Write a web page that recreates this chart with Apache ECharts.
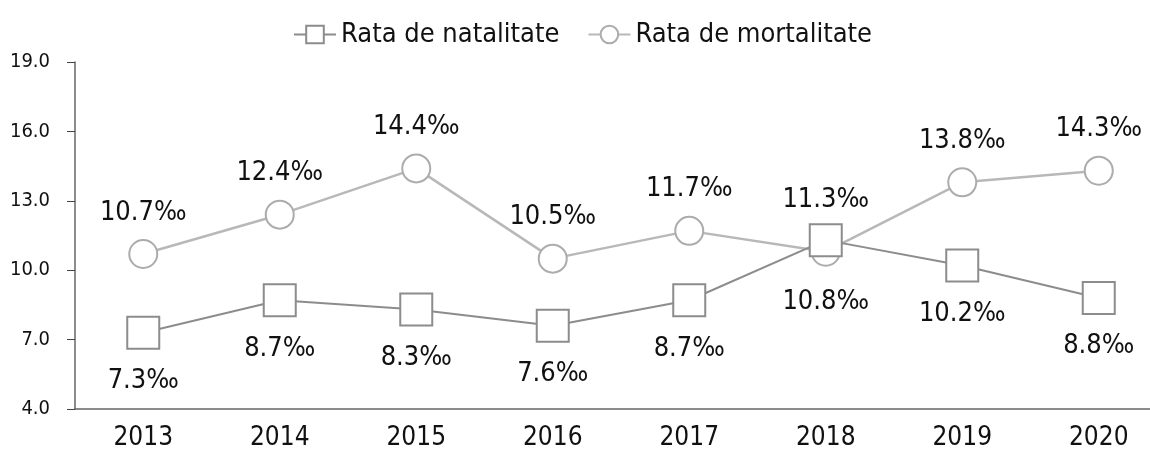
<!DOCTYPE html>
<html>
<head>
<meta charset="utf-8">
<script src="https://cdn.jsdelivr.net/npm/echarts@6/dist/echarts.min.js"></script>
<style>
  html, body { margin: 0; padding: 0; background: #fff; overflow: hidden; }
  #chart { width: 1150px; height: 468px; }
</style>
</head>
<body>
<div id="chart"></div>
<script>
  // date
  var years = ['2013', '2014', '2015', '2016', '2017', '2018', '2019', '2020']
  var natalitate = [7.3, 8.7, 8.3, 7.6, 8.7, 11.3, 10.2, 8.8]
  var mortalitate = [10.7, 12.4, 14.4, 10.5, 11.7, 10.8, 13.8, 14.3]
  // in 2018 etichetele sunt inversate
  var natalitatePos = ['bottom', 'bottom', 'bottom', 'bottom', 'bottom', 'top', 'bottom', 'bottom']
  var mortalitatePos = ['top', 'top', 'top', 'top', 'top', 'bottom', 'top', 'top']

  var font = "'DejaVu Sans Condensed', sans-serif"

  // eticheta inversata are alta distanta fata de marker
  function withPos (values, pos, mainPos, altDistance) {
    return values.map(function (v, i) {
      var label = { position: pos[i] }
      if (pos[i] !== mainPos) label.distance = altDistance
      return { value: v, label: label }
    })
  }

  var chart = echarts.init(document.getElementById('chart'))
  chart.setOption({
    animation: false,
    textStyle: { fontFamily: font },
    legend: {
      top: 16,
      left: 288,
      itemGap: 28,
      itemWidth: 42,
      itemHeight: 22,
      textStyle: { fontFamily: font, fontSize: 27, color: '#111' },
      data: ['Rata de natalitate', 'Rata de mortalitate']
    },
    // ultima categorie iese putin din imagine
    grid: { left: 75, right: -17, top: 62, bottom: 59, outerBoundsMode: 'none' },
    xAxis: {
      type: 'category',
      data: years,
      boundaryGap: true,
      axisLine: { lineStyle: { color: '#666', width: 1.5 } },
      axisTick: { show: false },
      axisLabel: { fontFamily: font, fontSize: 26, color: '#111', margin: 16 }
    },
    yAxis: {
      type: 'value',
      min: 4,
      max: 19,
      interval: 3,
      axisLine: { show: true, lineStyle: { color: '#666', width: 1.5 } },
      axisTick: { show: true, length: 8, lineStyle: { color: '#444' } },
      splitLine: { show: false },
      axisLabel: {
        fontFamily: font, fontSize: 20, color: '#111', margin: 25,
        formatter: function (v) { return v.toFixed(1) }
      }
    },
    series: [
      {
        name: 'Rata de natalitate',
        type: 'line',
        data: withPos(natalitate, natalitatePos, 'bottom', 10),
        symbol: 'rect',
        symbolSize: 32,
        lineStyle: { color: '#8c8c8c', width: 2 },
        itemStyle: { color: '#fff', borderColor: '#8c8c8c', borderWidth: 2 },
        label: {
          show: true, distance: 18, fontFamily: font, fontSize: 27, color: '#111',
          formatter: function (p) { return p.value.toFixed(1) + '‰' }
        },
        z: 3
      },
      {
        name: 'Rata de mortalitate',
        type: 'line',
        data: withPos(mortalitate, mortalitatePos, 'top', 22),
        symbol: 'circle',
        symbolSize: 28,
        lineStyle: { color: '#b8b8b8', width: 2.5 },
        itemStyle: { color: '#fff', borderColor: '#acacac', borderWidth: 2 },
        label: {
          show: true, distance: 13, fontFamily: font, fontSize: 27, color: '#111',
          formatter: function (p) { return p.value.toFixed(1) + '‰' }
        },
        z: 2
      }
    ]
  })
</script>
</body>
</html>
